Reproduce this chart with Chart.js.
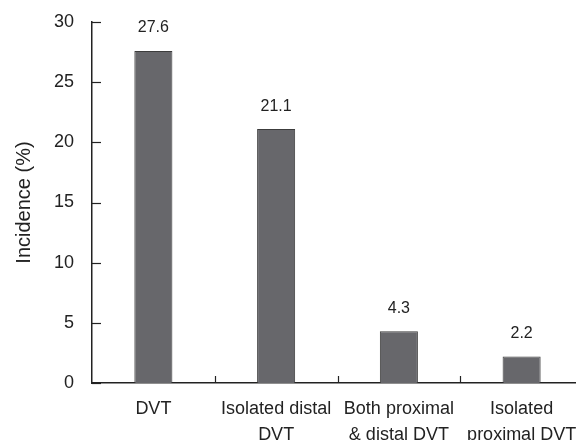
<!DOCTYPE html>
<html>
<head>
<meta charset="utf-8">
<script src="https://cdn.jsdelivr.net/npm/chart.js@4.4.1/dist/chart.umd.min.js"></script>
<style>
  html, body { margin: 0; padding: 0; background: #fff; overflow: hidden; }
  #wrap { width: 583px; height: 440px; position: relative; }
</style>
</head>
<body>
<div id="wrap"><canvas id="c"></canvas></div>
<script>
var categories = [["DVT"], ["Isolated distal", "DVT"], ["Both proximal", "& distal DVT"], ["Isolated", "proximal DVT"]];
var incidence = [27.6, 21.1, 4.3, 2.2];
var yTicks = [0, 5, 10, 15, 20, 25, 30];

var FONT = "'Liberation Sans', Arial, sans-serif";
var INK = "#222";

// ticks pointing into the plot, and value labels above the bars
var marks = {
  id: "marks",
  afterDraw: function (chart) {
    var ctx = chart.ctx;
    var x = chart.scales.x, y = chart.scales.y;
    ctx.save();
    ctx.strokeStyle = INK;
    ctx.lineWidth = 1.2;
    yTicks.forEach(function (v) {
      var py = Math.round(y.getPixelForValue(v)) + 0.5;
      ctx.beginPath();
      ctx.moveTo(x.left, py);
      ctx.lineTo(x.left + 9, py);
      ctx.stroke();
    });
    for (var i = 1; i < categories.length; i++) {
      var px = Math.round((x.getPixelForValue(i - 1) + x.getPixelForValue(i)) / 2) + 0.5;
      ctx.beginPath();
      ctx.moveTo(px, y.bottom);
      ctx.lineTo(px, y.bottom - 7);
      ctx.stroke();
    }
    var meta = chart.getDatasetMeta(0);
    ctx.fillStyle = INK;
    ctx.font = "16px " + FONT;
    ctx.textAlign = "center";
    ctx.textBaseline = "middle";
    meta.data.forEach(function (bar, i) {
      ctx.fillText(incidence[i].toFixed(1), bar.x, bar.y - 23);
    });
    ctx.restore();
  }
};

new Chart(document.getElementById("c"), {
  type: "bar",
  data: {
    labels: categories,
    datasets: [{
      data: incidence,
      backgroundColor: "#67676b",
      borderColor: "#3c3c3c",
      borderWidth: 1,
      barPercentage: 0.31,
      categoryPercentage: 1
    }]
  },
  options: {
    responsive: true,
    maintainAspectRatio: false,
    animation: false,
    layout: { padding: { top: 22, right: 0, left: 0, bottom: 0 } },
    plugins: { legend: { display: false }, tooltip: { enabled: false } },
    scales: {
      x: {
        offset: true,
        grid: { display: false },
        border: { display: true, color: INK, width: 1.5 },
        ticks: {
          color: INK,
          padding: 5,
          maxRotation: 0,
          autoSkip: false,
          font: { family: FONT, size: 18, lineHeight: 1.45 }
        },
        afterFit: function (s) { s.height = 57; }
      },
      y: {
        min: 0,
        max: 30,
        grid: { display: false },
        border: { display: true, color: INK, width: 1.5 },
        ticks: {
          stepSize: 5,
          color: INK,
          padding: 10,
          font: { family: FONT, size: 18 }
        },
        title: {
          display: true,
          text: "Incidence (%)",
          color: INK,
          padding: { top: 12, bottom: 0 },
          font: { family: FONT, size: 20 }
        },
        afterFit: function (s) { s.width = 92; }
      }
    }
  },
  plugins: [marks]
});
</script>
</body>
</html>
